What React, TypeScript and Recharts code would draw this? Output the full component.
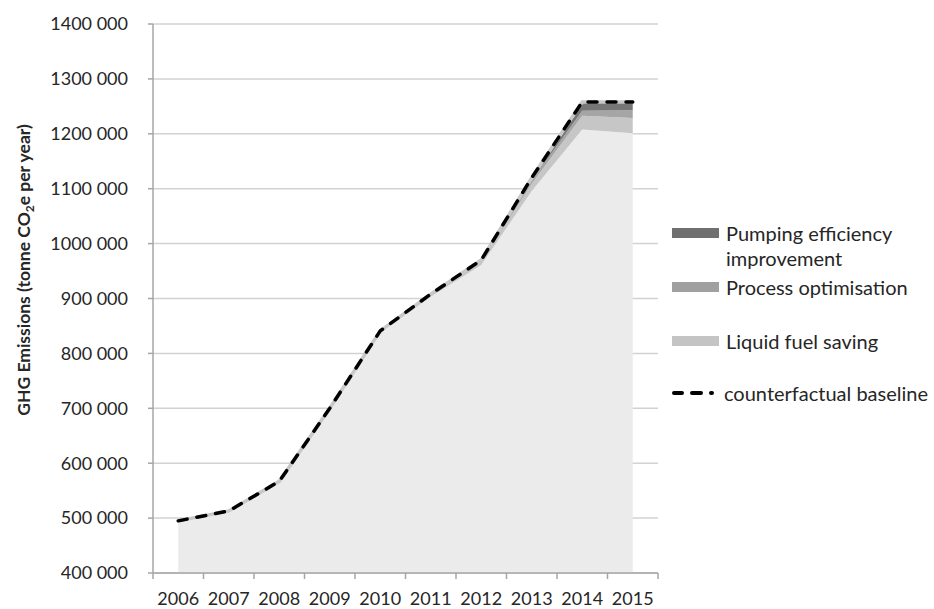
import React from 'react';
import { ComposedChart, Area, Line, XAxis, YAxis, CartesianGrid } from 'recharts';

const years = ['2006', '2007', '2008', '2009', '2010', '2011', '2012', '2013', '2014', '2015'];
const baseEmissions = [494000, 512000, 566000, 698000, 838000, 903000, 961000, 1096000, 1208000, 1201000];
const liquidFuelSaving = [1000, 1000, 1000, 2000, 2000, 3000, 5000, 13000, 25000, 28000];
const processOptimisation = [0, 0, 0, 0, 1000, 1000, 2000, 6000, 9000, 14000];
const pumpingEfficiency = [0, 0, 0, 0, 0, 1000, 2000, 5000, 16000, 15000];
const counterfactualBaseline = [495000, 513000, 567000, 700000, 841000, 908000, 970000, 1120000, 1258000, 1258000];
const yTicks = [400000, 500000, 600000, 700000, 800000, 900000, 1000000, 1100000, 1200000, 1300000, 1400000];

const seriesNames = {
  pumping: 'Pumping efficiency improvement',
  process: 'Process optimisation',
  liquid: 'Liquid fuel saving',
  baseline: 'counterfactual baseline',
};

const colors = {
  base: '#ebebeb',
  liquid: '#c6c6c6',
  process: '#a5a5a5',
  pumping: '#767676',
};

const FONT = 'Lato, "Open Sans", sans-serif';
const TEXT = '#262626';

const data = years.map((y, i) => ({
  idx: i,
  year: y,
  base: baseEmissions[i],
  liquid: liquidFuelSaving[i],
  process: processOptimisation[i],
  pumping: pumpingEfficiency[i],
  baseline: counterfactualBaseline[i],
}));

// boundaries and centres of categories
const xTicks: number[] = [];
for (let i = 0; i <= years.length * 2; i++) xTicks.push(i / 2 - 0.5);

const fmt = (v: number) => {
  const th = Math.floor(v / 1000);
  const rest = String(v % 1000).padStart(3, '0');
  return `${th} ${rest}`;
};

const XTick = (props: any) => {
  const { x, y, payload } = props;
  const v = payload.value;
  if (Number.isInteger(v)) {
    return (
      <text x={x} y={y + 32} textAnchor="middle" fontSize={18} fill={TEXT} fontFamily={FONT}>
        {years[v]}
      </text>
    );
  }
  return <line x1={x} x2={x} y1={y} y2={y + 6} stroke="#a6a6a6" strokeWidth={1.5} />;
};

const YTitle = () => {
  const x = 30;
  const y = 270;
  return (
    <text
      x={x}
      y={y}
      transform={`rotate(-90, ${x}, ${y})`}
      textAnchor="middle"
      fontSize={17.5}
      fontWeight="bold"
      fill={TEXT}
      fontFamily={FONT}
    >
      GHG Emissions (tonne CO
      <tspan dy={4} fontSize={12}>2</tspan>
      <tspan dy={-4}>e per year)</tspan>
    </text>
  );
};

const legendItems = [
  { key: 'pumping', lines: ['Pumping efficiency', 'improvement'], color: '#707070', top: 221 },
  { key: 'process', lines: ['Process optimisation'], color: '#a0a0a0', top: 275 },
  { key: 'liquid', lines: ['Liquid fuel saving'], color: '#c4c4c4', top: 329 },
];

export default function App() {
  return (
    <div style={{ position: 'absolute', left: 0, top: 0, width: 934, height: 609, background: '#fff' }}>
      <ComposedChart width={934} height={609} data={data} margin={{ top: 24, right: 276, bottom: 0, left: 0 }}>
        <CartesianGrid vertical={false} horizontal stroke="#d2d2d2" strokeWidth={1.5} />
        <XAxis
          dataKey="idx"
          type="number"
          domain={[-0.5, 9.5]}
          ticks={xTicks}
          interval={0}
          allowDecimals
          height={36}
          tickSize={0}
          tickMargin={0}
          tickLine={false}
          axisLine={{ stroke: '#a6a6a6', strokeWidth: 1.5 }}
          tick={<XTick />}
        />
        <YAxis
          type="number"
          domain={[400000, 1400000]}
          allowDataOverflow
          ticks={yTicks}
          interval={0}
          width={153}
          tickSize={5}
          tickMargin={20}
          tickFormatter={fmt}
          tickLine={{ stroke: '#a6a6a6', strokeWidth: 1.5 }}
          axisLine={{ stroke: '#a6a6a6', strokeWidth: 1.5 }}
          tick={{ fontSize: 18, fill: TEXT, fontFamily: FONT }}
          label={<YTitle />}
        />
        <Area type="linear" stackId="s" dataKey="base" name="Base emissions" fill={colors.base} fillOpacity={1} stroke="none" isAnimationActive={false} />
        <Area type="linear" stackId="s" dataKey="liquid" name={seriesNames.liquid} fill={colors.liquid} fillOpacity={1} stroke="none" isAnimationActive={false} />
        <Area type="linear" stackId="s" dataKey="process" name={seriesNames.process} fill={colors.process} fillOpacity={1} stroke="none" isAnimationActive={false} />
        <Area type="linear" stackId="s" dataKey="pumping" name={seriesNames.pumping} fill={colors.pumping} fillOpacity={1} stroke="none" isAnimationActive={false} />
        <Line
          type="linear"
          dataKey="baseline"
          legendType="none"
          stroke="#c8c8c8"
          strokeWidth={3.5}
          dot={false}
          activeDot={false}
          isAnimationActive={false}
        />
        <Line
          type="linear"
          dataKey="baseline"
          name={seriesNames.baseline}
          stroke="#000"
          strokeWidth={3.5}
          strokeDasharray="9 10"
          strokeLinecap="round"
          dot={false}
          activeDot={false}
          isAnimationActive={false}
        />
      </ComposedChart>
      {legendItems.map((it) => (
        <div
          key={it.key}
          style={{ position: 'absolute', left: 672, top: it.top, display: 'flex', alignItems: 'flex-start', fontFamily: FONT, fontSize: 20, color: TEXT, lineHeight: '25px' }}
        >
          <div style={{ width: 47, height: 10, marginTop: 7, background: it.color }} />
          <div style={{ marginLeft: 7, whiteSpace: 'nowrap' }}>
            {it.lines.map((l) => (
              <div key={l}>{l}</div>
            ))}
          </div>
        </div>
      ))}
      <div
        style={{ position: 'absolute', left: 670, top: 381, display: 'flex', alignItems: 'flex-start', fontFamily: FONT, fontSize: 20, color: TEXT, lineHeight: '25px' }}
      >
        <svg width={50} height={24} style={{ display: 'block' }}>
          <line x1={4} x2={48} y1={12} y2={12} stroke="#000" strokeWidth={4} strokeLinecap="round" strokeDasharray="8 10 9 10 1 40" />
        </svg>
        <div style={{ marginLeft: 4, whiteSpace: 'nowrap' }}>{seriesNames.baseline}</div>
      </div>
    </div>
  );
}
